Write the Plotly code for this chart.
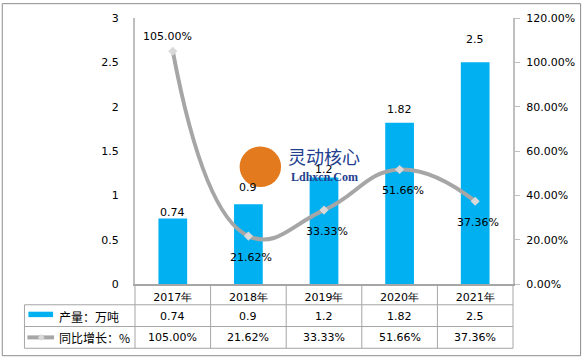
import plotly.graph_objects as go

# ---- data ----
years = ["2017年", "2018年", "2019年", "2020年", "2021年"]
output = [0.74, 0.9, 1.2, 1.82, 2.5]
growth = [1.05, 0.2162, 0.3333, 0.5166, 0.3736]
output_labels = ["0.74", "0.9", "1.2", "1.82", "2.5"]
growth_labels = ["105.00%", "21.62%", "33.33%", "51.66%", "37.36%"]
left_ticks = [0, 0.5, 1, 1.5, 2, 2.5, 3]
left_tick_text = ["0", "0.5", "1", "1.5", "2", "2.5", "3"]
right_ticks = [0, 0.2, 0.4, 0.6, 0.8, 1.0, 1.2]
right_tick_text = ["0.00%", "20.00%", "40.00%", "60.00%", "80.00%", "100.00%", "120.00%"]
series_names = ["产量：万吨", "同比增长：%"]

# ---- style / layout settings ----
bar_label_shift = [6, 17, 8, 13, 23]       # px above bar top (label centre)
W, H = 587, 357
L, R, T, B = 135, 518, 15, 284
PW, PH = R - L, B - T


def px(x):
    return (x - L) / PW


def py(y):
    return (B - y) / PH


FONT = "DejaVu Sans"
BLUE = "#00B0F0"
GRAY_LINE = "#A6A6A6"
GRID = "#A6A6A6"

fig = go.Figure()
fig.add_trace(go.Bar(
    x=years, y=output, name=series_names[0], marker=dict(color=BLUE, line=dict(width=0)),
    width=0.38, yaxis="y", showlegend=False, hoverinfo="skip",
))
fig.add_trace(go.Scatter(
    x=years, y=growth, name=series_names[1], yaxis="y2", mode="lines+markers",
    line=dict(color=GRAY_LINE, width=4, shape="spline", smoothing=1.3),
    marker=dict(symbol="diamond", size=7, color="#D9D9D9"), showlegend=False, hoverinfo="skip",
))

ann = []
tf = dict(family=FONT, size=11, color="#000")
# bar value labels
for yr, v, t, s in zip(years, output, output_labels, bar_label_shift):
    ann.append(dict(x=yr, y=v, xref="x", yref="y", text=t, showarrow=False,
                    yanchor="middle", yshift=s, font=tf))
# growth labels
for i, (yr, g, t) in enumerate(zip(years, growth, growth_labels)):
    if i == 0:
        ann.append(dict(x=yr, y=g, xref="x", yref="y2", text=t, showarrow=False,
                        yanchor="middle", yshift=15, xshift=-5, font=tf))
    else:
        ann.append(dict(x=yr, y=g, xref="x", yref="y2", text=t, showarrow=False,
                        yanchor="middle", yshift=-21, xshift=3, font=tf))

# data table
row1_y, row2_y = py(316.5), py(338)
for yr, t in zip(years, output_labels):
    ann.append(dict(x=yr, y=row1_y, xref="x", yref="paper", text=t, showarrow=False,
                    xanchor="center", yanchor="middle", font=tf))
for yr, t in zip(years, growth_labels):
    ann.append(dict(x=yr, y=row2_y, xref="x", yref="paper", text=t, showarrow=False,
                    xanchor="center", yanchor="middle", font=tf))
cjk = dict(family="Noto Sans CJK SC", size=12, color="#000")
ann.append(dict(x=px(56), y=row1_y, xref="paper", yref="paper", text=series_names[0],
                showarrow=False, xanchor="left", yanchor="middle", font=cjk))
ann.append(dict(x=px(56), y=row2_y, xref="paper", yref="paper", text=series_names[1],
                showarrow=False, xanchor="left", yanchor="middle", font=cjk))

# watermark
ann.append(dict(x=px(288), y=py(155), xref="paper", yref="paper", text="灵动核心", showarrow=False,
                xanchor="left", yanchor="middle",
                font=dict(family="Noto Sans CJK SC", size=18, color="#23408E")))
ann.append(dict(x=px(291), y=py(176), xref="paper", yref="paper", text="<b>Ldhxcn.Com</b>", showarrow=False,
                xanchor="left", yanchor="middle",
                font=dict(family="Liberation Serif", size=12, color="#23408E")))

shapes = []
# outer border
shapes.append(dict(type="rect", xref="paper", yref="paper", x0=px(0.5), x1=px(W - 0.5),
                   y0=py(H - 0.5), y1=py(0.5), line=dict(color="#8C8C8C", width=1)))
# table lines
col_edges = [L + PW * k / 5 for k in range(6)]
for xe in col_edges:
    shapes.append(dict(type="line", xref="paper", yref="paper", x0=px(xe), x1=px(xe),
                       y0=py(B), y1=py(349), line=dict(color=GRID, width=1)))
shapes.append(dict(type="line", xref="paper", yref="paper", x0=px(23), x1=px(23),
                   y0=py(305), y1=py(349), line=dict(color=GRID, width=1)))
for yy in [305, 327, 349]:
    shapes.append(dict(type="line", xref="paper", yref="paper", x0=px(23), x1=px(R),
                       y0=py(yy), y1=py(yy), line=dict(color=GRID, width=1)))
# legend keys
shapes.append(dict(type="rect", xref="paper", yref="paper", x0=px(27), x1=px(52),
                   y0=py(317.5), y1=py(312), fillcolor=BLUE, line=dict(width=0)))
shapes.append(dict(type="line", xref="paper", yref="paper", x0=px(26), x1=px(53),
                   y0=py(338), y1=py(338), line=dict(color=GRAY_LINE, width=4)))
cx, cy = 40, 338
shapes.append(dict(type="path", xref="paper", yref="paper",
                   path=f"M {px(cx-3.5)} {py(cy)} L {px(cx)} {py(cy-3.5)} L {px(cx+3.5)} {py(cy)} L {px(cx)} {py(cy+3.5)} Z",
                   fillcolor="#D9D9D9", line=dict(width=0)))
# watermark logo circle
shapes.append(dict(type="circle", xref="paper", yref="paper", x0=px(241), x1=px(283),
                   y0=py(186), y1=py(145), fillcolor="#E47A1E", line=dict(width=0), layer="above"))

fig.update_layout(
    width=W, height=H, margin=dict(l=L, r=W - R, t=T, b=H - B),
    paper_bgcolor="white", plot_bgcolor="white",
    font=dict(family=FONT, size=11, color="#000"),
    xaxis=dict(type="category", showgrid=False, showline=True, linecolor="#A6A6A6", linewidth=2,
               ticks="", showticklabels=True, tickfont=tf, ticklabelstandoff=2, zeroline=False),
    yaxis=dict(range=[0, 3], tickvals=left_ticks, ticktext=left_tick_text, showgrid=False,
               showline=True, linecolor="#BFBFBF", linewidth=2, ticks="", zeroline=False,
               ticklabelstandoff=12, tickfont=tf),
    yaxis2=dict(range=[0, 1.2], tickvals=right_ticks, ticktext=right_tick_text, overlaying="y",
                side="right", showgrid=False, showline=True, linecolor="#BFBFBF", linewidth=2,
                ticks="outside", ticklen=5, tickcolor="#BFBFBF", zeroline=False,
                ticklabelstandoff=4, tickfont=tf),
    annotations=ann, shapes=shapes, showlegend=False,
)

fig.write_html("out.html", config={"displayModeBar": False},
               post_script="document.body.style.margin='0';document.body.style.padding='0';")
